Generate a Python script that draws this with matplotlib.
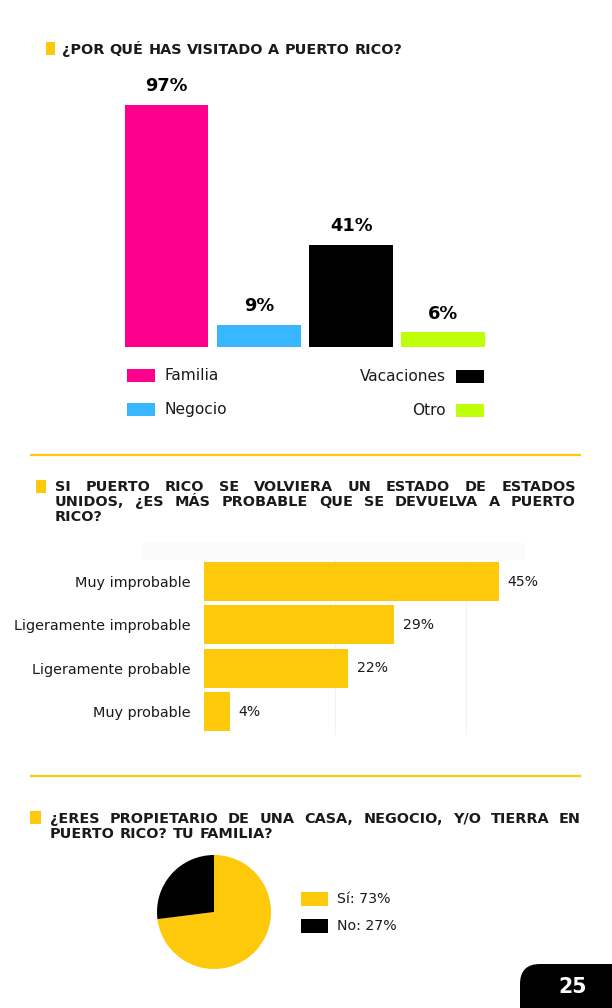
import numpy as np
import matplotlib
matplotlib.use("Agg")
from matplotlib import pyplot as plt
from matplotlib.patches import Rectangle, FancyBboxPatch

# --- data -------------------------------------------------------------
visit_labels = ["Familia", "Negocio", "Vacaciones", "Otro"]
visit_values = [97, 9, 41, 6]
visit_colors = ["#FF008C", "#38B6FF", "#000000", "#C0FF0A"]

return_labels = ["Muy improbable", "Ligeramente improbable",
                 "Ligeramente probable", "Muy probable"]
return_values = [45, 29, 22, 4]
return_ticks = [0, 20, 40]

owner_labels = ["Sí", "No"]
owner_values = [73, 27]
owner_colors = ["#FFC90B", "#000000"]

YELLOW = "#FFC90B"
TEXT = "#1a1a1a"
FONT = "DejaVu Sans"
W, H = 612, 1008

fig = plt.figure(figsize=(W / 100, H / 100), dpi=100)
fig.patch.set_facecolor("white")


def px_axes(left, top, right, bottom):
    return fig.add_axes([left / W, 1 - bottom / H, (right - left) / W, (bottom - top) / H])


# page overlay in pixel units (y down)
page = px_axes(0, 0, W, H)
page.set_xlim(0, W)
page.set_ylim(H, 0)
page.axis("off")
renderer = fig.canvas.get_renderer()


def text_width(s, size, weight="normal"):
    t = page.text(0, 0, s, fontsize=size, fontweight=weight, family=FONT)
    w = t.get_window_extent(renderer).width
    t.remove()
    return w


def fit_size(s, target, weight="normal"):
    return 10 * target / text_width(s, 10, weight)


TITLE_SIZE = fit_size("¿POR QUÉ HAS VISITADO A PUERTO RICO?", 341, "bold")
LABEL_SIZE = fit_size("Ligeramente improbable", 177)
LEG_SIZE = fit_size("Vacaciones", 86)
PIE_LEG_SIZE = fit_size("Sí: 73%", 53)


def title_line(words, x0, x1, y, justify=True):
    widths = [text_width(w, TITLE_SIZE, "bold") for w in words]
    if justify and len(words) > 1:
        gap = (x1 - x0 - sum(widths)) / (len(words) - 1)
    else:
        gap = text_width("A A", TITLE_SIZE, "bold") - 2 * text_width("A", TITLE_SIZE, "bold")
    x = x0
    for w, wd in zip(words, widths):
        page.text(x, y, w, fontsize=TITLE_SIZE, fontweight="bold", family=FONT,
                  color=TEXT, ha="left", va="baseline")
        x += wd + gap


def marker(x0, y0, x1, y1):
    page.add_patch(Rectangle((x0, y0), x1 - x0, y1 - y0, color=YELLOW, lw=0))


def swatch(x, y, color, label, text_left=False, w=28, h=13, size=None):
    size = size or LEG_SIZE
    page.add_patch(Rectangle((x, y - h / 2), w, h, color=color, lw=0))
    if text_left:
        page.text(x - 10, y, label, fontsize=size, family=FONT, color=TEXT,
                  ha="right", va="center")
    else:
        page.text(x + w + 9, y, label, fontsize=size, family=FONT, color=TEXT,
                  ha="left", va="center")


# --- section 1: vertical bars ------------------------------------------
marker(45.5, 42, 54.5, 54.5)
title_line("¿POR QUÉ HAS VISITADO A PUERTO RICO?".split(), 62, 0, 54.3, justify=False)

unit = 92.3          # px between bar centres
c0, base = 166.5, 347
ax1 = px_axes(100, 60, 520, base)
ax1.set_xlim(-(c0 - 100) / unit, (520 - c0) / unit)
ax1.set_ylim(0, (base - 60) / 2.5)
x = np.arange(len(visit_values))
ax1.bar(x, visit_values, width=0.91, color=visit_colors, linewidth=0)
for xi, v in zip(x, visit_values):
    ax1.annotate(f"{v}%", (xi, v), xytext=(0, 9.5), textcoords="offset points",
                 ha="center", va="baseline", fontsize=12.8, fontweight="bold",
                 family=FONT, color="black")
ax1.axis("off")

swatch(127, 375, visit_colors[0], visit_labels[0])
swatch(127, 409.5, visit_colors[1], visit_labels[1])
swatch(456, 376.5, visit_colors[2], visit_labels[2], text_left=True)
swatch(456, 410.5, visit_colors[3], visit_labels[3], text_left=True)

page.plot([30, 581], [455, 455], color=YELLOW, lw=1.6, solid_capstyle="butt")

# --- section 2: horizontal bars ----------------------------------------
marker(35.5, 480, 46, 492.5)
title_line("SI PUERTO RICO SE VOLVIERA UN ESTADO DE ESTADOS".split(), 55, 576, 491)
title_line("UNIDOS, ¿ES MÁS PROBABLE QUE SE DEVUELVA A PUERTO".split(), 55, 576, 506)
title_line(["RICO?"], 55, 0, 521, justify=False)

page.add_patch(Rectangle((143, 543), 382, 17, color="#fbfbfb", lw=0))

pxp = 6.56           # px per percent
step, r0 = 43.4, 581.5
ax2 = px_axes(204, 560, 204 + 60 * pxp, 735)
y = np.arange(len(return_values))
ax2.barh(y, return_values, height=0.9, color=YELLOW, linewidth=0, zorder=2)
ax2.set_xlim(0, 60)
ax2.set_ylim((735 - r0) / step, -(r0 - 560) / step)
ax2.set_xticks(return_ticks)
ax2.grid(axis="x", color="#f2f2f2", lw=0.8, zorder=0)
ax2.tick_params(left=False, bottom=False, labelbottom=False)
ax2.set_yticks(y)
ax2.set_yticklabels(return_labels, fontsize=LABEL_SIZE, family=FONT, color=TEXT)
ax2.tick_params(axis="y", pad=6)
for s in ax2.spines.values():
    s.set_visible(False)
ax2.set_facecolor("none")
for yi, v in zip(y, return_values):
    ax2.annotate(f"{v}%", (v, yi), xytext=(6, 0), textcoords="offset points",
                 ha="left", va="center", fontsize=LABEL_SIZE * 0.98,
                 family=FONT, color=TEXT)

page.plot([30, 581], [776, 776], color=YELLOW, lw=1.6, solid_capstyle="butt")

# --- section 3: pie ----------------------------------------------------
marker(30, 811, 40.5, 824)
title_line("¿ERES PROPIETARIO DE UNA CASA, NEGOCIO, Y/O TIERRA EN".split(), 50, 581, 823)
title_line("PUERTO RICO? TU FAMILIA?".split(), 50, 0, 838.5, justify=False)

ax3 = px_axes(157, 855, 271, 969)
ax3.pie(owner_values, colors=owner_colors, startangle=90, counterclock=False,
        wedgeprops=dict(linewidth=0))
ax3.set_xlim(-1, 1)
ax3.set_ylim(-1, 1)
ax3.set_aspect("auto")

for i, (lab, v) in enumerate(zip(owner_labels, owner_values)):
    swatch(301, 899 + 27 * i, owner_colors[i], f"{lab}: {v}%", w=27, h=14,
           size=PIE_LEG_SIZE)

# page number tab
page.add_patch(FancyBboxPatch((520, 964), 140, 80,
                              boxstyle="round,pad=0,rounding_size=20",
                              color="black", lw=0))
page.text(572.5, 993, "25", fontsize=14.8, fontweight="bold", family=FONT,
          color="white", ha="center", va="baseline")

fig.savefig("out.png", dpi=100)
